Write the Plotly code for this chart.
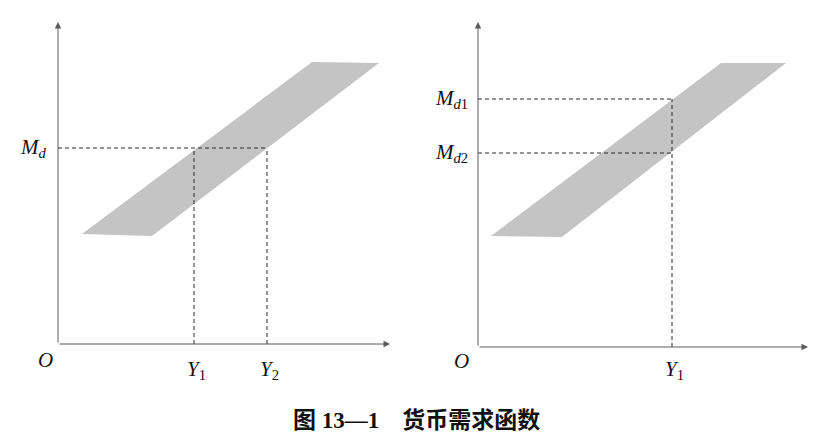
import plotly.graph_objects as go

# ---- data (units: chart units, origin at O) ----
left_band_x = [24, 94, 321, 254]
left_band_y = [110, 108, 281, 282]
left_Md = 196
left_Y1 = 136
left_Y2 = 209
left_xmax = 332
left_ymax = 322

right_band_x = [13, 84, 308, 243]
right_band_y = [111, 110, 284, 284]
right_Md1 = 248
right_Md2 = 194
right_Y1 = 194
right_xmax = 330
right_ymax = 325

caption = "图 13—1　货币需求函数"

W, H = 823, 440
BAND = "#c4c4c4"
AXC = "#5a5a5a"
DASHC = "#2a2a2a"
SERIF = "Liberation Serif, Times New Roman, serif"

fig = go.Figure()

def band(xs, ys, xa, ya):
    fig.add_trace(go.Scatter(x=xs + [xs[0]], y=ys + [ys[0]], fill="toself",
                             fillcolor=BAND, mode="lines", line=dict(width=0, color=BAND),
                             xaxis=xa, yaxis=ya, hoverinfo="skip", showlegend=False))

def dline(xs, ys, xa, ya):
    fig.add_trace(go.Scatter(x=xs, y=ys, mode="lines",
                             line=dict(color=DASHC, width=1, dash="4px,3px"),
                             xaxis=xa, yaxis=ya, hoverinfo="skip", showlegend=False))

band(left_band_x, left_band_y, "x", "y")
band(right_band_x, right_band_y, "x2", "y2")

dline([0, left_Y2], [left_Md, left_Md], "x", "y")
dline([left_Y1, left_Y1], [0, left_Md], "x", "y")
dline([left_Y2, left_Y2], [0, left_Md], "x", "y")

dline([0, right_Y1], [right_Md1, right_Md1], "x2", "y2")
dline([0, right_Y1], [right_Md2, right_Md2], "x2", "y2")
dline([right_Y1, right_Y1], [0, right_Md1], "x2", "y2")

ann = []
def arrow(xr, yr, x, y):
    ann.append(dict(xref=xr, yref=yr, axref=xr, ayref=yr, x=x, y=y, ax=0, ay=0,
                    showarrow=True, arrowhead=2, arrowsize=1.3, arrowwidth=1,
                    arrowcolor=AXC, standoff=0, startstandoff=0, text=""))

arrow("x", "y", left_xmax, 0)
arrow("x", "y", 0, left_ymax)
arrow("x2", "y2", right_xmax, 0)
arrow("x2", "y2", 0, right_ymax)

def label(xr, yr, x, y, text, xanchor="center", size=21):
    ann.append(dict(xref=xr, yref=yr, x=x, y=y, text=text, showarrow=False,
                    xanchor=xanchor, yanchor="middle",
                    font=dict(family=SERIF, size=size, color="#111")))

label("x", "y", -9, left_Md, "<i>M</i><sub><i>d</i></sub>", xanchor="right")
label("x", "y", -13, -16, "<i>O</i>")
label("x", "y", left_Y1 + 2, -26, "<i>Y</i><sub>1</sub>")
label("x", "y", left_Y2 + 2, -26, "<i>Y</i><sub>2</sub>")

label("x2", "y2", -8, right_Md1, "<i>M</i><sub><i>d</i>1</sub>", xanchor="right")
label("x2", "y2", -8, right_Md2, "<i>M</i><sub><i>d</i>2</sub>", xanchor="right")
label("x2", "y2", -17, -14, "<i>O</i>")
label("x2", "y2", right_Y1 + 2, -23, "<i>Y</i><sub>1</sub>")

ann.append(dict(xref="paper", yref="paper", x=416.5 / W, y=1 - 420 / H,
                text="<b>" + caption + "</b>", showarrow=False,
                xanchor="center", yanchor="middle",
                font=dict(family="Liberation Serif, Noto Sans CJK SC", size=23, color="#111")))

def px2fx(p):
    return p / W

def py2fy(p):
    return 1 - p / H

# left panel: pixel domain x [0,405], origin at px 58 ; y domain [15,390], origin at py 344
# right panel: pixel domain x [415,823], origin at px 478 ; y domain [15,390], origin at py 347
fig.update_layout(
    width=W, height=H, margin=dict(l=0, r=0, t=0, b=0),
    paper_bgcolor="white", plot_bgcolor="white", showlegend=False,
    xaxis=dict(domain=[px2fx(0), px2fx(405)], range=[-58, 347], visible=False, fixedrange=True),
    yaxis=dict(domain=[py2fy(390), py2fy(15)], range=[-46, 329], visible=False, anchor="x", fixedrange=True),
    xaxis2=dict(domain=[px2fx(415), px2fx(823)], range=[-63, 345], visible=False, anchor="y2", fixedrange=True),
    yaxis2=dict(domain=[py2fy(390), py2fy(15)], range=[-43, 332], visible=False, anchor="x2", fixedrange=True),
    annotations=ann,
)

fig.write_html("out.html", config={"displayModeBar": False},
               post_script="document.body.style.margin='0';document.body.style.overflow='hidden';")
